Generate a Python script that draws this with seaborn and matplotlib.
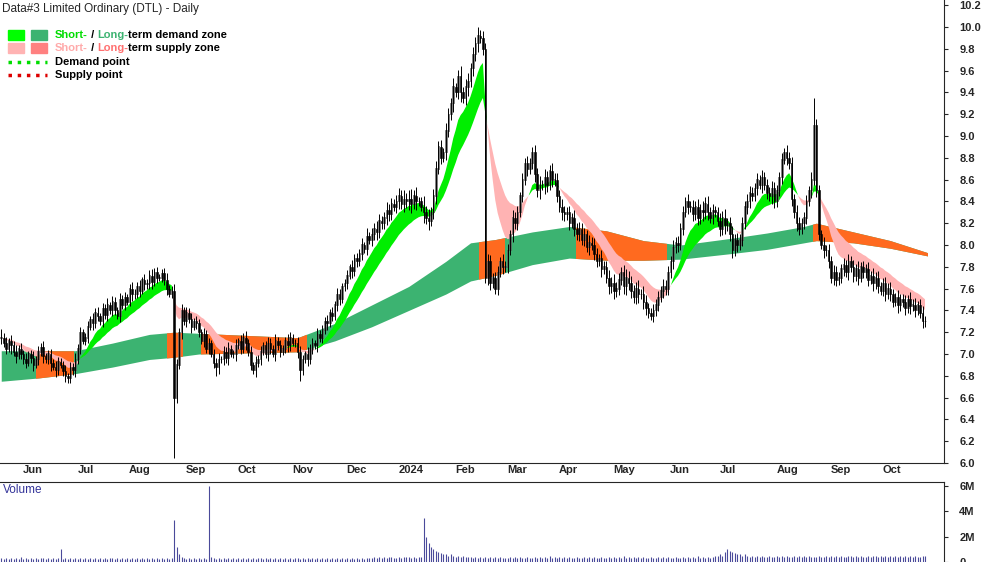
import numpy as np
import pandas as pd
import seaborn as sns
import matplotlib.pyplot as plt
from matplotlib.patches import Rectangle

sns.set_style("white")
plt.rcParams['font.family'] = ['Liberation Sans', 'DejaVu Sans']

# daily closes, one row per week (May 2023 - Oct 2024)
closes_txt = """
7.15 7.10 7.05 7.12 7.08  7.02 6.98 7.05 7.00 6.95  6.92 7.00 6.96 6.90 6.95
7.02 7.06 6.98 6.95 7.00  6.92 6.88 6.85 6.93 6.90  6.84 6.80 6.78 6.88 6.85
6.95 7.05 7.20 7.12 7.15  7.25 7.32 7.28 7.38 7.35  7.30 7.42 7.36 7.45 7.40
7.48 7.40 7.35 7.50 7.45  7.52 7.48 7.60 7.55 7.55  7.62 7.58 7.68 7.64 7.65
7.72 7.66 7.75 7.70 7.70  7.74 7.68 7.60 7.55 7.58  6.60 6.90 7.20 7.40 7.30
7.38 7.32 7.25 7.30 7.28  7.20 7.12 7.18 7.05 7.10  7.00 6.92 6.88 6.95 6.95
7.02 6.96 7.05 7.00 7.00  7.08 7.12 7.05 7.15 7.10  7.02 6.90 6.85 6.92 6.95
7.02 7.08 7.00 7.10 7.05  7.00 7.12 7.08 7.02 7.05  7.12 7.08 7.15 7.10 7.10
7.02 6.85 6.95 7.00 6.95  7.05 7.10 7.08 7.18 7.15  7.22 7.30 7.28 7.38 7.35
7.45 7.55 7.50 7.62 7.65  7.72 7.80 7.76 7.88 7.85  7.92 8.00 7.96 8.08 8.05
8.10 8.15 8.12 8.22 8.20  8.25 8.32 8.28 8.38 8.35  8.40 8.45 8.38 8.42 8.40
8.42 8.38 8.45 8.40 8.40  8.35 8.30 8.25 8.22 8.30  8.45 8.70 8.90 8.80 8.85
9.05 9.20 9.30 9.45 9.40  9.55 9.40 9.35 9.45 9.50  9.62 9.75 9.85 9.92 9.90
9.80 7.70 7.85 7.65 7.70  7.60 7.75 7.85 7.80 7.80  7.95 8.10 8.25 8.20 8.30
8.45 8.60 8.75 8.70 8.75  8.85 8.65 8.50 8.55 8.55  8.62 8.55 8.68 8.60 8.60
8.45 8.35 8.30 8.28 8.30  8.20 8.25 8.15 8.10 8.15  8.05 8.10 7.98 8.02 8.00
7.92 7.85 7.88 7.78 7.80  7.70 7.62 7.65 7.58 7.60  7.68 7.75 7.62 7.70 7.65
7.58 7.52 7.60 7.55 7.55  7.48 7.42 7.38 7.35 7.40  7.45 7.52 7.58 7.62 7.60
7.75 7.85 7.98 8.02 8.00  8.15 8.30 8.40 8.35 8.35  8.28 8.35 8.25 8.32 8.30
8.38 8.30 8.25 8.32 8.30  8.22 8.15 8.25 8.18 8.20  8.10 7.95 8.05 8.00 8.05
8.20 8.35 8.40 8.48 8.45  8.52 8.60 8.55 8.62 8.55  8.48 8.45 8.52 8.40 8.50
8.62 8.78 8.85 8.80 8.75  8.42 8.30 8.20 8.15 8.20  8.25 8.40 8.50 8.60 9.10
8.50 8.10 8.00 7.95 7.95  7.85 7.70 7.75 7.68 7.70  7.78 7.82 7.75 7.85 7.80
7.72 7.78 7.70 7.80 7.75  7.78 7.68 7.72 7.65 7.70  7.62 7.58 7.65 7.55 7.60
7.55 7.48 7.52 7.45 7.50  7.48 7.42 7.50 7.44 7.45  7.40 7.45 7.38 7.30 7.30
"""
# wick above / below the candle body, in cents
wick_up_txt = """
8 4 6 3 5  4 6 3 5 4  6 3 4 7 3  5 4 6 3 4  5 3 6 4 3  4 6 3 5 4
6 4 5 3 4  5 3 6 4 5  3 5 4 6 3  5 4 3 6 4  5 3 4 6 5  4 6 3 5 4
5 6 4 5 3  4 5 6 3 4  6 5 4 6 3  5 4 6 3 5  4 3 6 4 5  3 5 4 6 3
5 4 6 3 4  6 3 5 4 6  4 5 3 6 4  5 3 4 6 5  3 6 4 5 3  4 6 5 3 4
6 5 4 3 6  4 5 3 6 4  5 4 6 3 5  4 6 5 3 4  5 3 6 4 5  4 6 3 8 4
6 5 7 6 5  5 7 6 5 4  6 7 5 8 6  8 9 5 8 4  4 10 6 8 5  6 7 5 6 4
7 6 5 8 4  6 9 5 7 8  5 7 6 8 5  6 5 7 6 4  5 6 4 7 5  6 4 7 5 6
4 6 5 7 5  5 7 6 8 5  8 6 5 7 6  6 5 7 6 5  6 4 7 5 6  5 6 4 7 5
6 5 4 7 5  5 7 6 8 6  6 5 7 8 6  7 5 6 8 5  7 6 5 4 6  5 6 4 7 6
6 5 7 5 6  5 6 4 7 5  6 5 7 6 8  6 7 5 6 4  5 7 6 8 5  6 7 5 6 5
6 5 7 6 5  5 6 4 7 5  6 5 7 6 5  5 6 4 7 5  6 5 7 6 5  5 6 4 7 25
6 5 4 7 5  6 5 7 6 5  5 6 4 7 5  6 5 7 4 5  5 6 4 7 5  6 4 5 6 5
6 5 4 7 5  5 6 4 7 5  6 4 5 6 5  6 5 4 7 5  5 6 4 7 5
"""
wick_dn_txt = """
6 4 5 3 8  4 6 3 5 4  5 3 4 6 3  5 4 6 3 4  8 3 6 4 3  4 6 5 5 4
6 4 5 3 4  5 3 6 4 5  3 5 4 6 3  5 4 3 6 4  5 3 4 6 5  4 6 3 5 4
5 6 4 5 3  4 5 6 3 4  55 5 4 6 3  5 4 6 3 5  4 3 6 4 5  3 5 8 6 3
5 4 6 3 4  6 3 5 4 6  4 5 3 6 4  5 3 4 6 5  3 6 4 5 3  4 6 5 3 4
6 10 4 3 6  4 5 3 6 4  5 4 6 3 5  4 6 5 3 4  5 3 6 4 5  4 6 3 5 4
6 5 7 6 5  5 7 6 5 4  6 7 5 8 6  8 9 5 8 4  4 10 6 8 5  6 7 5 6 4
7 6 5 8 4  6 9 5 7 8  5 7 6 8 5  6 5 7 6 4  5 6 4 7 5  6 4 7 5 6
4 6 5 7 5  5 7 6 8 5  8 6 5 7 6  6 5 7 6 5  6 4 7 5 6  5 6 4 7 5
6 5 4 7 5  5 7 6 8 6  6 5 7 8 6  7 5 6 8 5  7 6 5 4 6  5 6 4 7 6
6 5 7 5 6  5 6 4 7 5  6 5 7 6 8  6 7 5 6 4  5 7 6 8 5  6 7 5 6 5
6 5 7 6 5  5 6 4 7 5  6 5 7 6 5  5 6 4 7 5  6 5 7 6 5  5 6 4 7 5
6 5 4 7 5  6 5 7 6 5  5 6 4 7 5  6 5 7 4 5  5 6 4 7 5  6 4 5 6 5
6 5 4 7 6  5 6 4 7 5  6 4 5 6 5  6 5 4 7 5  5 6 4 7 5
"""
# volume in units of 0.1M
volume_txt = """
3 2 3 2 3  2 3 2 4 2  3 2 3 2 3  2 3 3 2 3  2 3 2 3 10  2 3 2 3 2
3 2 3 2 3  2 3 2 3 2  3 2 3 2 3  3 2 3 2 3  2 3 2 3 2  3 2 3 2 3
2 3 2 3 2  3 2 3 2 3  33 12 6 4 3  2 3 2 3 2  3 2 3 2 60  4 3 2 3 2
3 2 3 2 3  2 3 2 3 2  3 2 3 2 3  3 2 3 2 3  2 3 2 3 2  3 2 3 2 3
3 2 3 2 3  2 3 2 3 2  3 2 3 2 3  2 3 2 3 2  3 2 3 2 3  2 3 2 3 3
3 4 3 4 3  4 3 4 4 3  3 4 3 4 4  4 3 4 3 4  4 35 20 15 12  10 9 8 7 6
6 5 6 5 4  5 4 5 4 4  4 3 4 3 4  3 4 3 4 3  4 3 4 3 3  3 4 3 4 3
4 3 3 4 3  3 4 3 4 3  4 3 5 3 4  3 4 3 4 3  4 3 3 4 3  3 4 3 4 3
4 3 3 4 3  3 4 3 4 3  4 3 5 3 4  3 4 3 4 3  4 3 3 4 3  3 4 3 4 3
4 3 3 4 3  3 4 3 4 3  4 3 5 3 4  3 4 3 4 5  5 6 5 8 10  9 8 7 6 6
5 6 5 4 5  4 5 4 5 4  4 5 4 4 5  4 5 4 5 4  4 5 4 5 4  5 4 5 4 4
4 5 4 4 5  4 5 4 5 4  5 4 4 5 5  4 5 4 5 4  4 5 4 5 5  4 5 4 5 4
5 4 5 4 5  4 5 4 5 4  5 4 4 5 5  4 5 4 5 4  4 5 4 5 5
"""
# long-term zone edges read at selected weeks
lt_weeks = [0, 3, 6, 9, 12, 14, 16, 20, 24, 27, 30, 33, 36, 38, 40, 43, 46, 49, 52, 55, 59, 62, 65, 66, 69, 72, 75]
lt_lower = [6.75, 6.78, 6.82, 6.88, 6.95, 6.97, 7.00, 7.01, 7.02, 7.12, 7.25, 7.40, 7.55, 7.67, 7.72, 7.82,
            7.88, 7.86, 7.86, 7.87, 7.92, 7.96, 8.02, 8.04, 8.02, 7.97, 7.90]
lt_upper = [7.03, 7.03, 7.03, 7.10, 7.18, 7.20, 7.19, 7.17, 7.15, 7.28, 7.45, 7.62, 7.85, 8.02, 8.05, 8.12,
            8.17, 8.13, 8.04, 8.00, 8.06, 8.11, 8.17, 8.20, 8.12, 8.04, 7.93]
# weeks where the long-term zone is a supply zone
lt_supply = [(2.8, 5.8), (13.4, 14.6), (16.2, 24.7), (38.7, 40.7), (46.5, 53.8), (65.7, 76)]

closes = np.array(closes_txt.split(), dtype=float)
n = len(closes)
wick_up = np.array(wick_up_txt.split(), dtype=float)[:n] / 100
wick_dn = np.array(wick_dn_txt.split(), dtype=float)[:n] / 100
volume = np.array(volume_txt.split(), dtype=float)[:n] * 1e5

dates = pd.bdate_range("2023-05-22", periods=n)
idx = np.arange(n)
opens = np.r_[closes[0], closes[:-1]]
highs = np.maximum(opens, closes) + wick_up
lows = np.minimum(opens, closes) - wick_dn

# short-term zone from moving averages
s = pd.Series(closes)
st_fast = s.ewm(span=10, adjust=False).mean().values
st_slow = s.ewm(span=22, adjust=False).mean().values

fig = plt.figure(figsize=(10, 5.62), dpi=100)
ax = fig.add_axes([0, 99 / 562, 0.944, 463 / 562])
axv = fig.add_axes([0, 0, 0.944, 80 / 562])

ltx = np.array(lt_weeks) * 5
ax.fill_between(ltx, lt_lower, lt_upper, color="#3cb371", lw=0)
for a, b in lt_supply:
    poly = ax.fill_between(ltx, lt_lower, lt_upper, color="#ff6a1f", lw=0)
    clip = Rectangle((a * 5, 0), (b - a) * 5, 20, transform=ax.transData)
    poly.set_clip_path(clip)

st_up = st_fast >= st_slow
ax.fill_between(idx, st_fast, st_slow, where=st_up, color="#00ee00", lw=0, interpolate=True)
ax.fill_between(idx, st_fast, st_slow, where=~st_up, color="#ffb3b3", lw=0, interpolate=True)

up = closes >= opens
ax.vlines(idx, lows, highs, color="black", lw=0.7)
ax.bar(idx[up], (closes - opens)[up] + 0.005, bottom=opens[up], width=0.65,
       color="#b0b0b0", edgecolor="#404040", lw=0.4)
ax.bar(idx[~up], (closes - opens)[~up], bottom=opens[~up], width=0.65,
       color="black", edgecolor="black", lw=0.4)

xmax = 944 / 2.47 - 0.5
ax.set_xlim(-0.5, xmax)
ax.set_ylim(6.0, 6.0 + 463 / 109)
ax.yaxis.tick_right()
ax.set_yticks(np.arange(6.0, 10.21, 0.2))
ax.set_yticklabels([f"{v:.1f}" for v in np.arange(6.0, 10.21, 0.2)], fontsize=8, fontweight="bold")
ax.tick_params(axis="y", length=3, pad=8)
for sp in ["top", "left"]:
    ax.spines[sp].set_visible(False)

# month ticks
month_starts = [i for i in range(1, n) if dates[i].month != dates[i - 1].month]
ax.set_xticks(month_starts)
ax.set_xticklabels([])
ax.tick_params(axis="x", length=3, direction="out")
for i in month_starts:
    lab = "2024" if dates[i].month == 1 else dates[i].strftime("%b")
    ax.text(i + 0.8, 5.985, lab, ha="left", va="top", fontsize=8, fontweight="bold")

axv.vlines(idx, 0, volume, color="#4a4a9a", lw=0.8)
axv.set_xlim(-0.5, xmax)
axv.set_ylim(0, 6.3e6)
axv.yaxis.tick_right()
axv.set_yticks([0, 2e6, 4e6, 6e6])
axv.set_yticklabels(["0", "2M", "4M", "6M"], fontsize=8, fontweight="bold")
axv.tick_params(axis="y", length=3, pad=8)
axv.set_xticks([])
for sp in ["left", "bottom"]:
    axv.spines[sp].set_visible(False)
axv.text(0.003, 0.97, "Volume", transform=axv.transAxes, va="top", fontsize=8.5, color="#333399")

# title and legend
fig.text(2 / 1000, 1 - 9 / 562, "Data#3 Limited Ordinary (DTL) - Daily", va="center", fontsize=8.5)
rows = [
    (35, ("#00ff00", "#3cb371"), [("Short-", "#00dd00"), (" / ", "black"), ("Long-", "#3cb371"), ("term demand zone", "black")]),
    (48, ("#ffb3b3", "#ff8080"), [("Short-", "#ffaaaa"), (" / ", "black"), ("Long-", "#ff7070"), ("term supply zone", "black")]),
    (62, None, [("Demand point", "black")]),
    (75, None, [("Supply point", "black")]),
]
renderer = fig.canvas.get_renderer()
for y, boxes, parts in rows:
    yf = 1 - y / 562
    if boxes:
        fig.patches.append(Rectangle((8 / 1000, yf - 5 / 562), 16 / 1000, 10 / 562,
                                     color=boxes[0], transform=fig.transFigure))
        fig.patches.append(Rectangle((31 / 1000, yf - 5 / 562), 16 / 1000, 10 / 562,
                                     color=boxes[1], transform=fig.transFigure))
    x = 55
    for txt, col in parts:
        t = fig.text(x / 1000, yf, txt, va="center", fontsize=8, color=col, fontweight="bold")
        x += t.get_window_extent(renderer).width
fig.lines.append(plt.Line2D([8 / 1000, 47 / 1000], [1 - 62 / 562] * 2, color="#00dd00", ls=":", lw=2.5, transform=fig.transFigure))
fig.lines.append(plt.Line2D([8 / 1000, 47 / 1000], [1 - 75 / 562] * 2, color="#dd0000", ls=":", lw=2.5, transform=fig.transFigure))

fig.savefig("out.png", dpi=100)
